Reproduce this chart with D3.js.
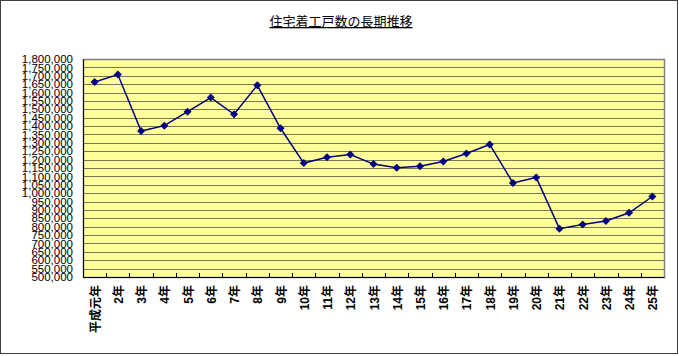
<!DOCTYPE html>
<html><head><meta charset="utf-8">
<script src="https://cdn.jsdelivr.net/npm/d3@7"></script>
<style>
html,body{margin:0;padding:0;background:#fff;}
svg{display:block;}
</style></head>
<body>
<script>
const categories = ["平成元年","2年","3年","4年","5年","6年","7年","8年","9年","10年","11年","12年","13年","14年","15年","16年","17年","18年","19年","20年","21年","22年","23年","24年","25年"];
const housingStarts = [1662612,1707109,1370126,1402590,1485684,1570252,1470330,1643266,1387014,1179536,1214601,1229843,1173170,1151016,1160083,1189049,1236175,1290391,1060741,1093519,788410,813126,834117,882797,980025];
const yTicks = d3.range(500000, 1800001, 50000);
const title = "住宅着工戸数の長期推移";

const W = 679, H = 356;
const m = {left: 83, right: 15, top: 59, bottom: 79};
const svg = d3.select("body").append("svg").attr("width", W).attr("height", H);

svg.append("rect").attr("x",0.5).attr("y",0.5).attr("width",677).attr("height",353)
  .attr("fill","#fff").attr("stroke","#404040").attr("stroke-width",1);

svg.append("text").attr("x",341).attr("y",26).attr("text-anchor","middle")
  .attr("font-family","'Noto Sans CJK JP'").attr("font-size",13).attr("fill","#000")
  .attr("text-decoration","underline").text(title);

const x = d3.scaleBand().domain(categories).range([m.left, W - m.right]).padding(0);
const y = d3.scaleLinear().domain([500000, 1800000]).range([H - m.bottom, m.top]);

const pw = W - m.right - m.left, ph = (H - m.bottom) - m.top;
svg.append("rect").attr("x", m.left).attr("y", m.top).attr("width", pw).attr("height", ph)
  .attr("fill", "#ffff99");

svg.append("g").selectAll("line").data(yTicks).join("line")
  .attr("x1", m.left).attr("x2", W - m.right)
  .attr("y1", d => Math.round(y(d)) + 0.5).attr("y2", d => Math.round(y(d)) + 0.5)
  .attr("stroke", "#77775a").attr("stroke-width", 1.2);

svg.append("rect").attr("x", m.left + 0.5).attr("y", m.top + 0.5).attr("width", pw).attr("height", ph)
  .attr("fill", "none").attr("stroke", "#808080").attr("stroke-width", 1.5);

// y axis
const yAxis = d3.axisLeft(y).tickValues(yTicks).tickSize(0).tickPadding(10)
  .tickFormat(d3.format(","));
const gy = svg.append("g").attr("transform", `translate(${m.left},0)`).call(yAxis);
gy.select(".domain").attr("stroke", "#000");
gy.selectAll("text").attr("font-family", "'Liberation Sans', Arial, sans-serif")
  .attr("font-size", 11.5).attr("fill", "#000");

// x axis
const xAxis = d3.axisBottom(x).tickSize(0).tickPadding(0);
const gx = svg.append("g").attr("transform", `translate(0,${H - m.bottom})`).call(xAxis);
gx.select(".domain").attr("stroke", "#000");
gx.selectAll(".tick text")
  .attr("font-family", "'Liberation Sans','Noto Sans CJK JP', sans-serif")
  .attr("font-size", 12).attr("font-weight", "bold").attr("fill", "#000")
  .attr("text-anchor", "end").attr("dy", null).attr("y", 0)
  .attr("transform", "translate(1,8) rotate(-90)")
  .attr("dominant-baseline", "central");
// inward boundary ticks
svg.append("g").selectAll("line").data(categories.slice(1)).join("line")
  .attr("x1", d => Math.round(x(d)) + 0.5).attr("x2", d => Math.round(x(d)) + 0.5)
  .attr("y1", H - m.bottom).attr("y2", H - m.bottom - 4)
  .attr("stroke", "#000");

// line
const line = d3.line().x((d, i) => x(categories[i]) + x.bandwidth() / 2).y(d => y(d));
svg.append("path").datum(housingStarts).attr("d", line)
  .attr("fill", "none").attr("stroke", "#000080").attr("stroke-width", 1.5);

svg.append("g").selectAll("path").data(housingStarts).join("path")
  .attr("d", d3.symbol().type(d3.symbolSquare).size(32))
  .attr("transform", (d, i) => `translate(${x(categories[i]) + x.bandwidth() / 2},${y(d)}) rotate(45)`)
  .attr("fill", "#000080");
</script>
</body></html>
